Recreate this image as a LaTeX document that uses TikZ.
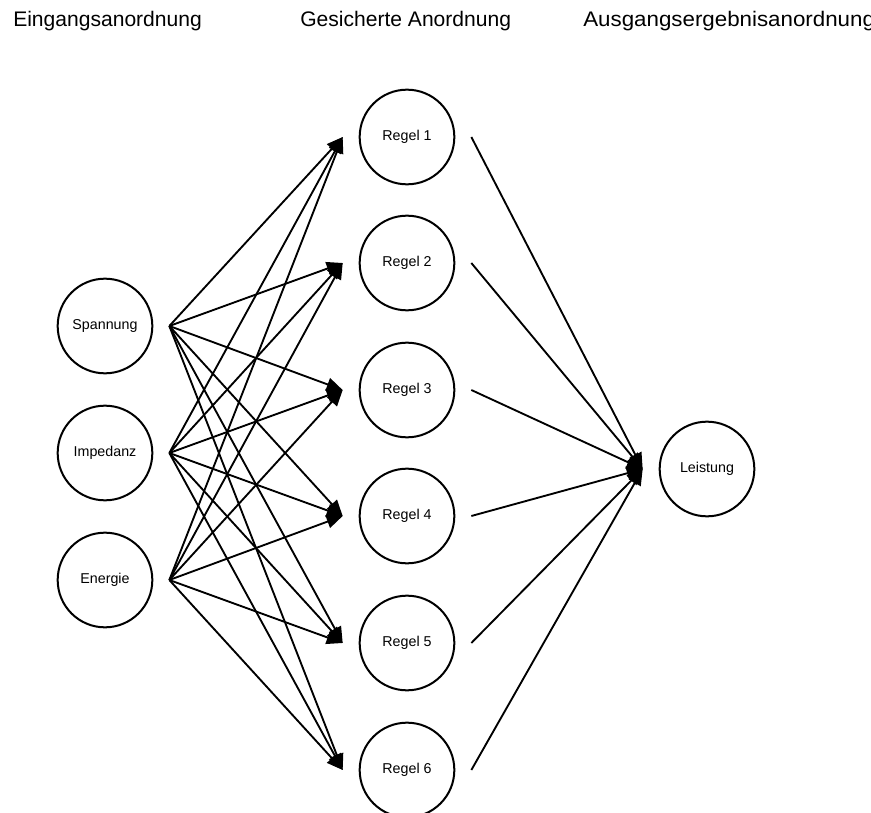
\documentclass[tikz,border=0pt]{standalone}
\usepackage{fontspec}
\setmainfont{Liberation Sans}
\usetikzlibrary{arrows.meta}

\begin{document}
\begin{tikzpicture}[x=0.75pt, y=-0.75pt,
        unit/.style={draw, circle, line width=1.5pt, inner sep=0pt, minimum size=71pt, outer sep=12.75pt, font=\fontsize{10.7}{12}\selectfont},
        link/.style={line width=1.4pt, -{Triangle[length=12pt, width=10pt]}},
        heading/.style={anchor=base west, inner sep=0pt, font=\fontsize{15.8}{18}\selectfont}]
    \useasboundingbox (0,0) rectangle (871,813);

    % column titles
    \node[heading] (t1) at (13,27) {Eingangsanordnung};
    \node[heading] (t2) at (300,27) {Gesicherte Anordnung};
    \node[heading, xscale=1.06, transform shape] (t3) at (583,27) {Ausgangsergebnisanordnung};

    % inputs
    \node[unit] (sp) at (105,326) {Spannung};
    \node[unit] (im) at (105,453) {Impedanz};
    \node[unit] (en) at (105,580) {Energie};

    % rules
    \node[unit] (r1) at (407,137) {Regel 1};
    \node[unit] (r2) at (407,263) {Regel 2};
    \node[unit] (r3) at (407,390) {Regel 3};
    \node[unit] (r4) at (407,516) {Regel 4};
    \node[unit] (r5) at (407,643) {Regel 5};
    \node[unit] (r6) at (407,770) {Regel 6};

    % output
    \node[unit] (le) at (707,469) {Leistung};

    \draw[link] (sp.east) -- (r1.west);
    \draw[link] (sp.east) -- (r2.west);
    \draw[link] (sp.east) -- (r3.west);
    \draw[link] (sp.east) -- (r4.west);
    \draw[link] (sp.east) -- (r5.west);
    \draw[link] (sp.east) -- (r6.west);

    \draw[link] (im.east) -- (r1.west);
    \draw[link] (im.east) -- (r2.west);
    \draw[link] (im.east) -- (r3.west);
    \draw[link] (im.east) -- (r4.west);
    \draw[link] (im.east) -- (r5.west);
    \draw[link] (im.east) -- (r6.west);

    \draw[link] (en.east) -- (r1.west);
    \draw[link] (en.east) -- (r2.west);
    \draw[link] (en.east) -- (r3.west);
    \draw[link] (en.east) -- (r4.west);
    \draw[link] (en.east) -- (r5.west);
    \draw[link] (en.east) -- (r6.west);

    \draw[link] (r1.east) -- (le.west);
    \draw[link] (r2.east) -- (le.west);
    \draw[link] (r3.east) -- (le.west);
    \draw[link] (r4.east) -- (le.west);
    \draw[link] (r5.east) -- (le.west);
    \draw[link] (r6.east) -- (le.west);

\end{tikzpicture}
\end{document}
